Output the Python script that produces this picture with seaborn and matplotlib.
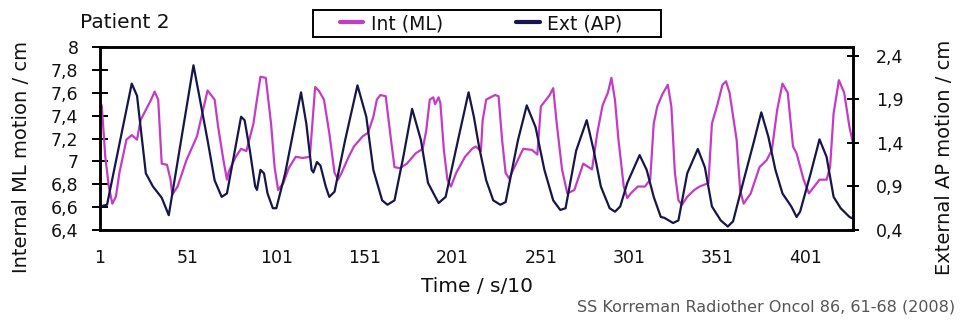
import matplotlib
matplotlib.use("Agg")
import matplotlib.pyplot as plt
import seaborn as sns
from matplotlib.patches import Rectangle
from matplotlib.ticker import FixedLocator, FuncFormatter

# Internal ML motion (left axis, cm) - vertices
int_t = [1, 2, 4, 6, 8, 10, 12, 16, 19, 22, 24, 27, 30, 32, 34, 36, 39, 41, 42, 45,
         50, 56, 59, 62, 66, 68, 71, 73, 74, 78, 81, 84, 88, 90, 92, 95, 98, 100, 102, 105,
         108, 112, 116, 120, 123, 125, 128, 131, 134, 136, 138, 142, 145, 150, 153, 156, 158, 160, 163, 166,
         168, 171, 175, 180, 184, 186, 188, 190, 191, 193, 194, 196, 198, 200, 203, 208, 212, 214, 217, 218,
         220, 225, 227, 229, 231, 233, 236, 241, 246, 249, 251, 253, 256, 258, 260, 263, 266, 270, 275, 280,
         283, 286, 289, 291, 293, 295, 298, 300, 302, 306, 310, 313, 315, 317, 320, 323, 325, 327, 329, 331,
         334, 338, 341, 346, 348, 351, 354, 356, 358, 362, 364, 366, 370, 375, 379, 382, 385, 388, 391, 394,
         396, 400, 403, 406, 409, 413, 415, 417, 420, 423, 426, 428]
int_ml = [7.50, 7.49, 7.04, 6.78, 6.63, 6.69, 6.90, 7.19, 7.23, 7.19, 7.36, 7.45, 7.54, 7.61, 7.54, 6.98, 6.97, 6.84, 6.71, 6.78,
          7.01, 7.22, 7.42, 7.62, 7.54, 7.30, 7.01, 6.84, 6.91, 7.04, 7.11, 7.09, 7.33, 7.54, 7.74, 7.73, 7.33, 6.95, 6.75, 6.81,
          6.94, 7.04, 7.03, 7.04, 7.65, 7.62, 7.54, 7.25, 6.90, 6.84, 6.90, 7.04, 7.13, 7.22, 7.25, 7.39, 7.54, 7.58, 7.57, 7.19,
          6.95, 6.94, 6.98, 7.07, 7.11, 7.27, 7.54, 7.56, 7.50, 7.56, 7.51, 7.10, 6.84, 6.78, 6.90, 7.04, 7.11, 7.13, 7.09, 7.36,
          7.54, 7.58, 7.57, 7.19, 6.90, 6.85, 6.95, 7.11, 7.10, 7.06, 7.48, 7.52, 7.58, 7.64, 7.33, 6.93, 6.72, 6.75, 6.98, 6.93,
          7.25, 7.49, 7.60, 7.73, 7.54, 7.19, 6.78, 6.68, 6.72, 6.78, 6.78, 6.84, 7.33, 7.48, 7.59, 7.67, 7.48, 6.90, 6.66, 6.62,
          6.69, 6.75, 6.78, 6.81, 7.33, 7.49, 7.67, 7.70, 7.60, 7.19, 6.75, 6.63, 6.72, 6.95, 7.01, 7.10, 7.45, 7.68, 7.60, 7.13,
          7.07, 6.84, 6.72, 6.78, 6.84, 6.84, 6.95, 7.42, 7.71, 7.60, 7.30, 7.16]

# External AP motion (right axis, cm)
ext_t = [1, 5, 19, 22, 27, 31, 36, 40, 54, 57, 62, 66, 70, 73, 81, 83, 86, 89, 90, 92,
         94, 96, 99, 101, 106, 115, 118, 121, 122, 124, 126, 129, 131, 134, 140, 147, 152, 156, 161, 164,
         168, 173, 178, 183, 187, 193, 197, 204, 210, 213, 216, 220, 224, 228, 231, 238, 243, 248, 253, 258,
         262, 265, 271, 277, 281, 285, 290, 293, 296, 300, 307, 311, 315, 319, 321, 326, 329, 334, 340, 344,
         348, 353, 357, 360, 366, 372, 376, 380, 384, 388, 393, 396, 398, 404, 409, 413, 417, 421, 426, 428]
ext_ap = [0.67, 0.69, 2.08, 1.94, 1.05, 0.90, 0.77, 0.57, 2.29, 1.97, 1.43, 0.97, 0.78, 0.82, 1.70, 1.66, 1.31, 0.90, 0.86, 1.09,
          1.05, 0.82, 0.65, 0.65, 1.05, 1.98, 1.62, 1.09, 1.06, 1.18, 1.14, 0.90, 0.78, 0.84, 1.43, 2.06, 1.70, 1.09, 0.74, 0.69,
          0.74, 1.24, 1.79, 1.43, 0.94, 0.71, 0.78, 1.43, 1.98, 1.70, 1.35, 0.97, 0.74, 0.69, 0.72, 1.43, 1.83, 1.58, 1.09, 0.74,
          0.63, 0.65, 1.31, 1.66, 1.31, 0.90, 0.65, 0.61, 0.67, 0.94, 1.26, 1.09, 0.78, 0.55, 0.54, 0.48, 0.51, 1.05, 1.33, 1.12,
          0.67, 0.51, 0.44, 0.50, 0.97, 1.43, 1.75, 1.47, 1.09, 0.82, 0.67, 0.55, 0.61, 1.05, 1.44, 1.24, 0.78, 0.65, 0.55, 0.53]

x_labels = [1, 51, 101, 151, 201, 251, 301, 351, 401]
left_ticks = [6.4, 6.6, 6.8, 7.0, 7.2, 7.4, 7.6, 7.8, 8.0]
right_ticks = [0.4, 0.9, 1.4, 1.9, 2.4]

int_color = "#c43cc6"
ext_color = "#16164a"
txt = "#111111"

sns.set_style("white")
plt.rcParams["font.family"] = ["DejaVu Sans"]
tick_fs = 12.5


def comma(v, pos=None):
    return ("%g" % round(v, 2)).replace(".", ",")


fig = plt.figure(figsize=(9.6, 3.21), dpi=100)
ax = fig.add_axes([100 / 960, 1 - 230 / 321, 753 / 960, 183 / 321])
ax2 = ax.twinx()

sns.lineplot(x=int_t, y=int_ml, ax=ax, color=int_color, linewidth=1.6, legend=False)
sns.lineplot(x=ext_t, y=ext_ap, ax=ax2, color=ext_color, linewidth=1.6, legend=False)

ax.set_xlim(1, 428)
ax.set_ylim(6.4, 8.0)
ax2.set_ylim(0.4, 2.5)

ax.set_xticks(x_labels)
ax.xaxis.set_minor_locator(FixedLocator(list(range(1, 429, 20))))
ax.tick_params(axis="x", which="major", length=0, pad=14, labelsize=tick_fs, labelcolor=txt)
ax.tick_params(axis="x", which="minor", length=9.5, width=1.4, direction="inout", color="black")

ax.set_yticks(left_ticks)
ax.yaxis.set_major_formatter(FuncFormatter(comma))
ax.tick_params(axis="y", length=11, width=1.4, direction="inout", labelsize=tick_fs, pad=10,
               left=True, color="black", labelcolor=txt)

ax2.set_yticks(right_ticks)
ax2.yaxis.set_major_formatter(FuncFormatter(comma))
ax2.tick_params(axis="y", length=9, width=1.4, direction="inout", labelsize=tick_fs, pad=12,
                right=True, color="black", labelcolor=txt)

for a in (ax, ax2):
    for sp in a.spines.values():
        sp.set_color("black")
        sp.set_linewidth(1.8)
ax.set_xlabel("")
ax.set_ylabel("")
ax2.set_ylabel("")

fig.text(22 / 960, 1 - 157 / 321, "Internal ML motion / cm", rotation=90, ha="center", va="center",
         fontsize=14, color=txt)
fig.text(944 / 960, 1 - 157 / 321, "External AP motion / cm", rotation=90, ha="center", va="center",
         fontsize=14, color=txt)
fig.text(477 / 960, 1 - 287 / 321, "Time / s/10", ha="center", va="center", fontsize=14.5, color=txt)
fig.text(80 / 960, 1 - 22 / 321, "Patient 2", ha="left", va="center", fontsize=14.5, color=txt)
fig.text(955 / 960, 1 - 307 / 321, "SS Korreman Radiother Oncol 86, 61-68 (2008)",
         ha="right", va="center", fontsize=11.5, color="#555555")

# legend box drawn by hand so the horizontal padding matches
fig.patches.append(Rectangle((313 / 960, 1 - 37 / 321), 348 / 960, 27 / 321, transform=fig.transFigure,
                             fill=False, edgecolor="black", linewidth=1.4, figure=fig))
handles = ax.get_lines()[:1] + ax2.get_lines()[:1]
leg = fig.legend(handles, ["Int (ML)", "Ext (AP)"], loc="center left", bbox_to_anchor=(340 / 960, 1 - 23.5 / 321),
                 ncol=2, fontsize=13.5, frameon=False, handlelength=1.25, handletextpad=0.4,
                 columnspacing=3.9, borderpad=0, borderaxespad=0)
for line in leg.get_lines():
    line.set_linewidth(3)
for t in leg.get_texts():
    t.set_color(txt)

fig.savefig("out.png", dpi=100)
